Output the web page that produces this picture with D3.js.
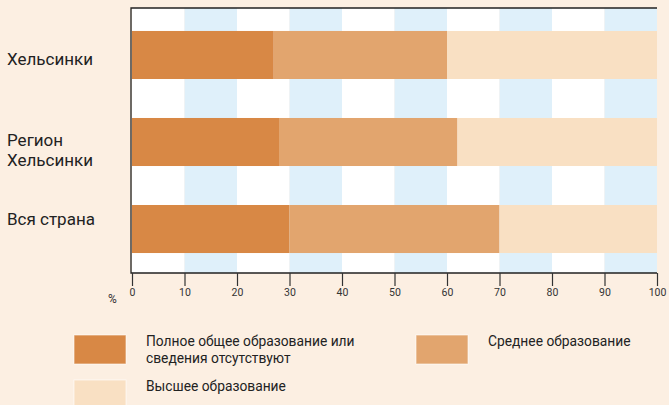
<!DOCTYPE html>
<html><head><meta charset="utf-8">
<script src="https://cdn.jsdelivr.net/npm/d3@7"></script>
<style>html,body{margin:0;padding:0;background:#FCEFE2;}svg{display:block;}</style>
</head><body>
<script>
const categories = ["Хельсинки", "Регион Хельсинки", "Вся страна"];
const categoryLines = [["Хельсинки"], ["Регион", "Хельсинки"], ["Вся страна"]];
const seriesNames = ["Полное общее образование или сведения отсутствуют", "Среднее образование", "Высшее образование"];
const basic = [27, 28, 30];
const secondary = [33, 34, 40];
const higher = [40, 38, 30];
const tickValues = [0, 10, 20, 30, 40, 50, 60, 70, 80, 90, 100];
const colors = ["#D88845", "#E2A56E", "#F9E0C3"];

const W = 669, H = 405;
const svg = d3.select("body").append("svg").attr("width", W).attr("height", H);
svg.append("rect").attr("width", W).attr("height", H).attr("fill", "#FCEFE2");

const pLeft = 132, pRight = 657, pTop = 8, pBottom = 273;
const x = d3.scaleLinear().domain([0, 100]).range([pLeft, pRight]);
const y = d3.scaleBand().domain(categories).range([pTop, pTop + 268]).paddingInner(0.448).paddingOuter(0.264);

// grid bands
const bands = d3.range(0, 100, 10);
svg.append("g").selectAll("rect").data(bands).join("rect")
  .attr("x", d => x(d)).attr("y", pTop).attr("width", d => x(d + 10) - x(d)).attr("height", pBottom - pTop)
  .attr("fill", (d, i) => i % 2 ? "#DFF0FA" : "#FFFFFF");

// stacked bars
const rows = categories.map((c, i) => ({cat: c, vals: [basic[i], secondary[i], higher[i]]}));
const stackData = rows.map(r => { let acc = 0; return r.vals.map((v, k) => { const s = acc; acc += v; return {cat: r.cat, k, x0: s, x1: acc}; }); }).flat();
svg.append("g").selectAll("rect").data(stackData).join("rect")
  .attr("x", d => x(d.x0)).attr("width", d => x(d.x1) - x(d.x0))
  .attr("y", d => y(d.cat)).attr("height", y.bandwidth())
  .attr("fill", d => colors[d.k]);

// border (top, left, bottom)
svg.append("path").attr("d", `M${pRight},${pTop}H${pLeft - 1}V${pBottom}H${pRight}`)
  .attr("fill", "none").attr("stroke", "#222").attr("stroke-width", 1.3);

// axis
const axis = d3.axisBottom(x).tickValues(tickValues).tickSize(13).tickSizeOuter(0).tickPadding(3);
const ag = svg.append("g").attr("transform", `translate(0,${pBottom})`).call(axis);
ag.select(".domain").remove();
ag.selectAll(".tick line").attr("stroke", "#333").attr("stroke-width", 1.2);
ag.selectAll(".tick text").attr("font-family", "Roboto, sans-serif").attr("font-size", 10.5).attr("fill", "#333");
svg.append("text").attr("x", 108).attr("y", 303).attr("font-family", "Roboto, sans-serif").attr("font-size", 12).attr("fill", "#333").text("%");

// category labels
const labelDy = [10, 4, -4];
categories.forEach((c, i) => {
  const lines = categoryLines[i];
  const cy = y(c) + y.bandwidth() / 2;
  const t = svg.append("text").attr("font-family", "Roboto, sans-serif").attr("font-size", 17).attr("fill", "#222");
  lines.forEach((l, j) => {
    t.append("tspan").attr("x", 7).attr("y", cy + labelDy[i] + j * 20).text(l);
  });
});

// legend
const legend = [
  {i: 0, sx: 74, sy: 335, lines: ["Полное общее образование или", "сведения отсутствуют"]},
  {i: 1, sx: 416, sy: 335, lines: ["Среднее образование"]},
  {i: 2, sx: 74, sy: 380, lines: ["Высшее образование"]}
];
legend.forEach(l => {
  svg.append("rect").attr("x", l.sx).attr("y", l.sy).attr("width", 52).attr("height", 29)
    .attr("fill", colors[l.i]).attr("stroke", "#fff").attr("stroke-opacity", 0.6).attr("stroke-width", 1);
  const t = svg.append("text").attr("font-family", "Roboto, sans-serif").attr("font-size", 13.8).attr("fill", "#222");
  l.lines.forEach((s, j) => t.append("tspan").attr("x", l.sx + 72).attr("y", l.sy + 11 + j * 16.5).text(s));
});
</script>
</body></html>
